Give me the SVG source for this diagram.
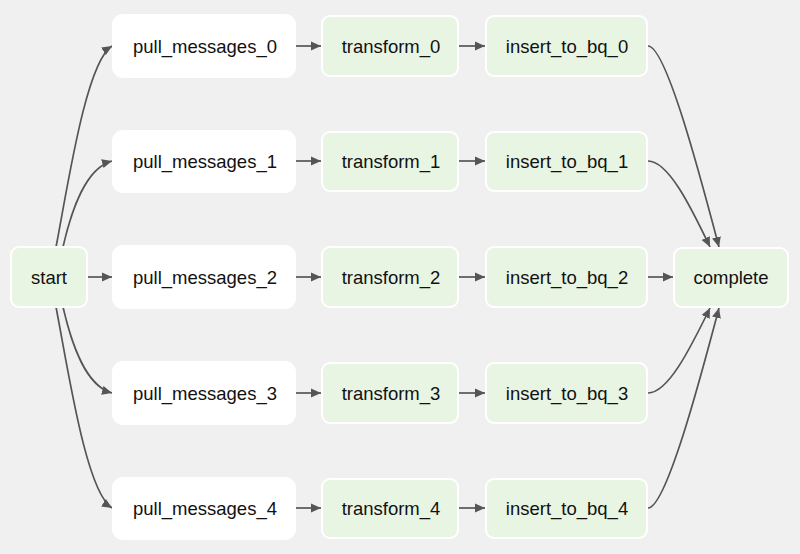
<svg xmlns="http://www.w3.org/2000/svg" width="800" height="554" viewBox="0 0 800 554">
<defs>
<style>
.bg{fill:#f0f0f0}
.w{fill:#ffffff;stroke:#ffffff;stroke-width:2}
.g{fill:#e9f5e3;stroke:#ffffff;stroke-width:2}
.t{font-family:"Liberation Sans",Arial,Helvetica,sans-serif;font-size:18.5px;fill:#111111;text-anchor:middle}
.e{fill:none;stroke:#555555;stroke-width:1.7;marker-end:url(#ah)}
</style>
<marker id="ah" markerUnits="userSpaceOnUse" markerWidth="12" markerHeight="10" refX="10" refY="5" orient="auto">
<path d="M0,0.5 L10,5 L0,9.5 z" fill="#555555"/>
</marker>
</defs>
<rect class="bg" x="0" y="0" width="800" height="554"/>
<g id="connectors">
<path class="e" d="M56,247 C68,185 86,62 112,46"/>
<path class="e" d="M63,247 C72,208 86,168 112,161"/>
<path class="e" d="M88,277 L112,277"/>
<path class="e" d="M63,307 C72,346 86,386 112,393"/>
<path class="e" d="M56,307 C68,369 86,492 112,508"/>
<path class="e" d="M296,46 L321,46"/>
<path class="e" d="M296,161 L321,161"/>
<path class="e" d="M296,277 L321,277"/>
<path class="e" d="M296,393 L321,393"/>
<path class="e" d="M296,508 L321,508"/>
<path class="e" d="M459,46 L485,46"/>
<path class="e" d="M459,161 L485,161"/>
<path class="e" d="M459,277 L485,277"/>
<path class="e" d="M459,393 L485,393"/>
<path class="e" d="M459,508 L485,508"/>
<path class="e" d="M648,277 L673,277"/>
<path class="e" d="M648,46 C666,46 700,175 719,247"/>
<path class="e" d="M648,161 C668,161 690,205 710,247"/>
<path class="e" d="M648,393 C668,393 690,349 710,308"/>
<path class="e" d="M648,508 C666,508 700,380 719,308"/>
</g>
<g id="start"><rect class="g" x="11" y="247" width="76" height="60" rx="8"/><text class="t" x="49" y="283.5">start</text></g>
<g id="pull_messages_0"><rect class="w" x="113" y="15" width="182" height="62" rx="10"/><text class="t" x="205" y="52.5">pull_messages_0</text></g>
<g id="pull_messages_1"><rect class="w" x="113" y="131" width="182" height="61" rx="10"/><text class="t" x="205" y="167.5">pull_messages_1</text></g>
<g id="pull_messages_2"><rect class="w" x="113" y="246" width="182" height="62" rx="10"/><text class="t" x="205" y="283.5">pull_messages_2</text></g>
<g id="pull_messages_3"><rect class="w" x="113" y="362" width="182" height="62" rx="10"/><text class="t" x="205" y="399.5">pull_messages_3</text></g>
<g id="pull_messages_4"><rect class="w" x="113" y="478" width="182" height="61" rx="10"/><text class="t" x="205" y="514.5">pull_messages_4</text></g>
<g id="transform_0"><rect class="g" x="322" y="16" width="136" height="60" rx="8"/><text class="t" x="391" y="52.5">transform_0</text></g>
<g id="transform_1"><rect class="g" x="322" y="132" width="136" height="59" rx="8"/><text class="t" x="391" y="167.5">transform_1</text></g>
<g id="transform_2"><rect class="g" x="322" y="247" width="136" height="60" rx="8"/><text class="t" x="391" y="283.5">transform_2</text></g>
<g id="transform_3"><rect class="g" x="322" y="363" width="136" height="60" rx="8"/><text class="t" x="391" y="399.5">transform_3</text></g>
<g id="transform_4"><rect class="g" x="322" y="479" width="136" height="59" rx="8"/><text class="t" x="391" y="514.5">transform_4</text></g>
<g id="insert_to_bq_0"><rect class="g" x="486" y="16" width="161" height="60" rx="8"/><text class="t" x="567" y="52.5">insert_to_bq_0</text></g>
<g id="insert_to_bq_1"><rect class="g" x="486" y="132" width="161" height="59" rx="8"/><text class="t" x="567" y="167.5">insert_to_bq_1</text></g>
<g id="insert_to_bq_2"><rect class="g" x="486" y="247" width="161" height="60" rx="8"/><text class="t" x="567" y="283.5">insert_to_bq_2</text></g>
<g id="insert_to_bq_3"><rect class="g" x="486" y="363" width="161" height="60" rx="8"/><text class="t" x="567" y="399.5">insert_to_bq_3</text></g>
<g id="insert_to_bq_4"><rect class="g" x="486" y="479" width="161" height="59" rx="8"/><text class="t" x="567" y="514.5">insert_to_bq_4</text></g>
<g id="complete"><rect class="g" x="674" y="248" width="114" height="59" rx="8"/><text class="t" x="731" y="283.5">complete</text></g>
</svg>
